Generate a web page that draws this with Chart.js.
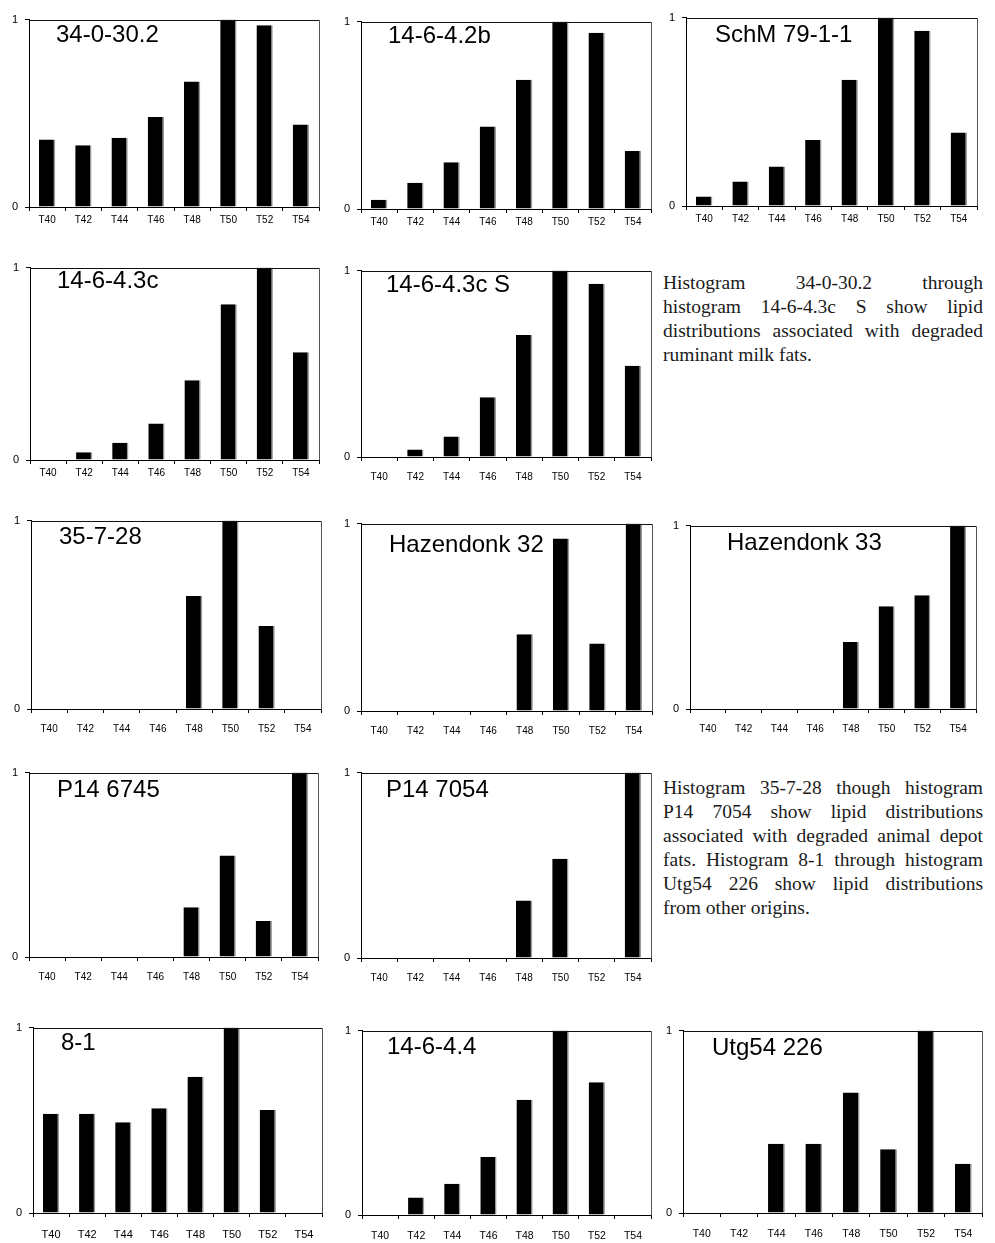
<!DOCTYPE html>
<html>
<head>
<meta charset="utf-8">
<script src="https://cdn.jsdelivr.net/npm/chart.js@4.4.1/dist/chart.umd.min.js"></script>
<style>
  html, body { margin: 0; padding: 0; background: #fff; }
  #page { position: relative; width: 995px; height: 1243px; overflow: hidden; background: #fff; }
  .cv { position: absolute; }
  .lbl { position: absolute; font-family: "Liberation Sans", Arial, sans-serif; font-size: 24px; line-height: 24px; color: #000; white-space: nowrap; }
  .para { position: absolute; width: 320px; font-family: "Liberation Serif", "Times New Roman", serif; font-size: 19.5px; line-height: 24px; color: #1a1a1a; }
  .para .ln { text-align: justify; text-align-last: justify; white-space: nowrap; }
  .para .ln.last { text-align-last: left; }
</style>
</head>
<body>
<div id="page"></div>
<script>
// ---------- DATA ----------
const categories = ['T40', 'T42', 'T44', 'T46', 'T48', 'T50', 'T52', 'T54'];
const yTickValues = [0, 1];

const s_34_0_30_2   = [0.36, 0.33, 0.37, 0.48, 0.67, 1.00, 0.97, 0.44];
const s_14_6_4_2b   = [0.05, 0.14, 0.25, 0.44, 0.69, 1.00, 0.94, 0.31];
const s_SchM_79_1_1 = [0.05, 0.13, 0.21, 0.35, 0.67, 1.00, 0.93, 0.39];
const s_14_6_4_3c   = [0.00, 0.04, 0.09, 0.19, 0.415, 0.81, 1.00, 0.56];
const s_14_6_4_3c_S = [0.00, 0.04, 0.11, 0.32, 0.655, 1.00, 0.93, 0.49];
const s_35_7_28     = [0, 0, 0, 0, 0.60, 1.00, 0.44, 0];
const s_Hazendonk32 = [0, 0, 0, 0, 0.41, 0.92, 0.36, 1.00];
const s_Hazendonk33 = [0, 0, 0, 0, 0.365, 0.56, 0.62, 1.00];
const s_P14_6745    = [0, 0, 0, 0, 0.27, 0.55, 0.195, 1.00];
const s_P14_7054    = [0, 0, 0, 0, 0.31, 0.535, 0, 1.00];
const s_8_1         = [0.535, 0.535, 0.49, 0.565, 0.735, 1.00, 0.555, 0];
const s_14_6_4_4    = [0, 0.095, 0.17, 0.315, 0.625, 1.00, 0.72, 0];
const s_Utg54_226   = [0, 0, 0.38, 0.38, 0.66, 0.35, 1.00, 0.27];

const sampleNames = ['34-0-30.2', '14-6-4.2b', 'SchM 79-1-1', '14-6-4.3c', '14-6-4.3c S',
  '35-7-28', 'Hazendonk 32', 'Hazendonk 33', 'P14 6745', 'P14 7054', '8-1', '14-6-4.4', 'Utg54 226'];
const sampleSeries = [s_34_0_30_2, s_14_6_4_2b, s_SchM_79_1_1, s_14_6_4_3c, s_14_6_4_3c_S,
  s_35_7_28, s_Hazendonk32, s_Hazendonk33, s_P14_6745, s_P14_7054, s_8_1, s_14_6_4_4, s_Utg54_226];

const paragraph1 = [
  'Histogram 34-0-30.2 through',
  'histogram 14-6-4.3c S show lipid',
  'distributions associated with degraded',
  'ruminant milk fats.'
];
const paragraph2 = [
  'Histogram 35-7-28 though histogram',
  'P14 7054 show lipid distributions',
  'associated with degraded animal depot',
  'fats. Histogram 8-1 through histogram',
  'Utg54 226 show lipid distributions',
  'from other origins.'
];

// ---------- LAYOUT (plot-area boxes: left, top, right, bottom) ----------
const boxes = [
  [29, 14, 319, 207], [361, 16, 651, 209], [686, 12, 977, 206],
  [30, 262, 319, 460], [361, 265, 651, 457],
  [31, 515, 321, 709], [361, 518, 652, 711], [690, 520, 976, 709],
  [29, 767, 318, 957], [361, 767, 651, 958],
  [33, 1022, 322, 1213], [362, 1025, 651, 1215], [683, 1025, 982, 1213]
];
const labelPos = [
  [56, 25], [388, 26], [715, 25],
  [57, 271], [386, 275],
  [59, 527], [389, 535], [727, 533],
  [57, 780], [386, 780],
  [61, 1033], [387, 1037], [712, 1038]
];
const xPad = [3, 3, 3, 3, 10, 10, 10, 10, 10, 10, 11, 11, 11];
const xFont = [10, 10, 10, 10, 10, 10, 10, 10, 10, 10, 11, 10.5, 10.5];

const YW = 30, PT = 8, PR = 6, XH = 34;
const page = document.getElementById('page');

const frame = {
  id: 'frame',
  afterDraw(chart) {
    const a = chart.chartArea, ctx = chart.ctx;
    ctx.save();
    ctx.lineWidth = 1;
    ctx.strokeStyle = '#111';
    ctx.beginPath();
    ctx.moveTo(Math.round(a.left) + 0.5, Math.round(a.top) + 0.5);
    ctx.lineTo(Math.round(a.right) + 0.5, Math.round(a.top) + 0.5);
    ctx.stroke();
    ctx.strokeStyle = '#555';
    ctx.beginPath();
    ctx.moveTo(Math.round(a.right) + 0.5, Math.round(a.top) + 0.5);
    ctx.lineTo(Math.round(a.right) + 0.5, Math.round(a.bottom) + 0.5);
    ctx.stroke();
    ctx.restore();
  }
};

sampleSeries.forEach((vals, i) => {
  const [l, t, r, b] = boxes[i];
  const w = YW + (r - l) + PR;
  const h = PT + (b - t) + XH;
  const cv = document.createElement('canvas');
  cv.className = 'cv';
  cv.width = w; cv.height = h;
  cv.style.width = w + 'px'; cv.style.height = h + 'px';
  cv.style.left = (l - YW) + 'px';
  cv.style.top = (t - PT) + 'px';
  page.appendChild(cv);

  new Chart(cv, {
    type: 'bar',
    data: {
      labels: categories,
      datasets: [{
        data: vals,
        backgroundColor: '#000',
        borderColor: '#9a9a9a',
        borderWidth: { top: 0, left: 0, bottom: 0, right: 1.5 },
        borderSkipped: false,
        categoryPercentage: 1,
        barPercentage: 0.45
      }]
    },
    options: {
      responsive: false,
      animation: false,
      devicePixelRatio: 1,
      layout: { padding: { top: PT, right: PR, left: 0, bottom: 0 } },
      plugins: { legend: { display: false }, tooltip: { enabled: false }, title: { display: false } },
      scales: {
        x: {
          grid: { display: true, drawOnChartArea: false, drawTicks: true, tickLength: 4, color: '#000', offset: true },
          border: { display: true, color: '#000', width: 1 },
          ticks: { color: '#000', font: { family: 'Liberation Sans', size: xFont[i] }, padding: xPad[i], maxRotation: 0, autoSkip: false },
          afterFit: s => { s.height = XH; }
        },
        y: {
          min: 0, max: 1,
          afterBuildTicks: s => { s.ticks = yTickValues.map(v => ({ value: v })); },
          grid: { display: true, drawOnChartArea: false, drawTicks: true, tickLength: 4, color: '#000' },
          border: { display: true, color: '#000', width: 1 },
          ticks: { color: '#000', font: { family: 'Liberation Sans', size: 11 }, padding: 7, callback: v => String(v) },
          afterFit: s => { s.width = YW; }
        }
      }
    },
    plugins: [frame]
  });

  const lb = document.createElement('div');
  lb.className = 'lbl';
  lb.textContent = sampleNames[i];
  lb.style.left = labelPos[i][0] + 'px';
  lb.style.top = (labelPos[i][1] - 3) + 'px';
  page.appendChild(lb);
});

function addPara(lines, left, top) {
  const p = document.createElement('div');
  p.className = 'para';
  p.style.left = left + 'px';
  p.style.top = top + 'px';
  lines.forEach((txt, k) => {
    const d = document.createElement('div');
    d.className = 'ln' + (k === lines.length - 1 ? ' last' : '');
    d.textContent = txt;
    p.appendChild(d);
  });
  page.appendChild(p);
}
addPara(paragraph1, 663, 271);
addPara(paragraph2, 663, 776);
</script>
</body>
</html>
